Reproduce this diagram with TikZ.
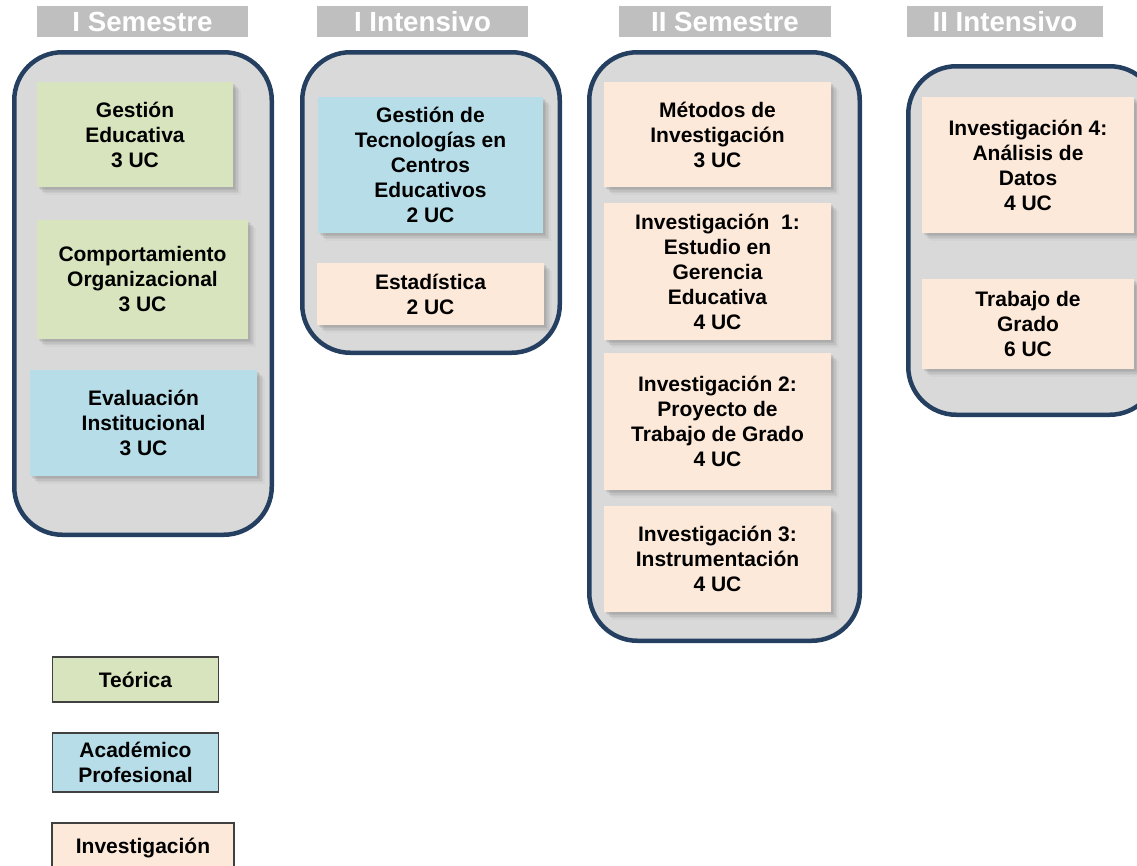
\documentclass[tikz,border=0pt]{standalone}
\usepackage{fontspec}
\setmainfont{Liberation Sans}
\usetikzlibrary{shadows}
\definecolor{teo}{HTML}{D7E4BD}
\definecolor{aca}{HTML}{B7DDE8}
\definecolor{inv}{HTML}{FDE9D9}
\definecolor{panel}{HTML}{D9D9D9}
\definecolor{navy}{HTML}{243F60}
\definecolor{hdr}{HTML}{BFBFBF}
\definecolor{legline}{HTML}{404040}
\tikzset{
  cardtext/.style={align=center, inner sep=0pt, font=\fontsize{21}{25}\selectfont\bfseries},
  card/.style={cardtext,
    drop shadow={shadow xshift=1.5pt,shadow yshift=-1.5pt,opacity=0.16},
    drop shadow={shadow xshift=3pt,shadow yshift=-3pt,opacity=0.16},
    drop shadow={shadow xshift=4.5pt,shadow yshift=-4.5pt,opacity=0.14},
    drop shadow={shadow xshift=6pt,shadow yshift=-6pt,opacity=0.10},
    drop shadow={shadow xshift=7.5pt,shadow yshift=-7.5pt,opacity=0.06}},
  panelbox/.style={draw=navy, line width=4.5pt, fill=panel, rounded corners=48pt, inner sep=0pt},
  header/.style={fill=hdr, text=white, inner sep=0pt, minimum height=31pt, font=\fontsize{27.7}{30}\selectfont\bfseries},
  legend/.style={cardtext, draw=legline, line width=1.2pt, minimum width=166pt},
}
\begin{document}
\begin{tikzpicture}[x=1pt,y=-1pt]
\useasboundingbox (0,0) rectangle (1137,865);
\clip (0,0) rectangle (1137,865);
% headers
\node[header, minimum width=211pt] (h1) at (142.5,21.5) {I Semestre};
\node[header, minimum width=211pt] (h2) at (422.5,21.5) {I Intensivo};
\node[header, minimum width=212pt] (h3) at (725,21.5) {II Semestre};
\node[header, minimum width=196pt] (h4) at (1005,21.5) {II Intensivo};
% panels
\node[panelbox, minimum width=257.5pt, minimum height=482.5pt] (s1) at (143,293.5) {};
\node[panelbox, minimum width=257.5pt, minimum height=300.5pt] (s2) at (431,202.5) {};
\node[panelbox, minimum width=270.5pt, minimum height=588.5pt] (s3) at (724.5,346.5) {};
\node[panelbox, minimum width=249.5pt, minimum height=348.5pt] (s4) at (1033,240.5) {};
% I Semestre
\node[card, fill=teo, minimum width=196pt, minimum height=105pt] (g1) at (135,134.5) {Gestión\\Educativa\\3 UC};
\node[card, fill=teo, minimum width=211pt, minimum height=119pt] (g2) at (142.5,279.5) {Comportamiento\\Organizacional\\3 UC};
\node[card, fill=aca, minimum width=227pt, minimum height=106pt] (b1) at (143.5,423) {Evaluación\\Institucional\\3 UC};
% I Intensivo
\node[card, fill=aca, minimum width=225pt, minimum height=136pt] (b2) at (430.5,165) {Gestión de\\Tecnologías en\\Centros\\Educativos\\2 UC};
\node[card, fill=inv, minimum width=227pt, minimum height=62pt] (p1) at (430.5,294) {Estadística\\2 UC};
% II Semestre
\node[card, fill=inv, minimum width=227pt, minimum height=105pt] (p2) at (717.5,134.5) {Métodos de\\Investigación\\3 UC};
\node[card, fill=inv, minimum width=227pt, minimum height=137pt] (p3) at (717.5,271.5) {Investigación\ \ 1:\\Estudio en\\Gerencia\\Educativa\\4 UC};
\node[card, fill=inv, minimum width=227pt, minimum height=137pt] (p4) at (717.5,421.5) {Investigación 2:\\Proyecto de\\Trabajo de Grado\\4 UC};
\node[card, fill=inv, minimum width=227pt, minimum height=106pt] (p5) at (717.5,559) {Investigación 3:\\Instrumentación\\4 UC};
% II Intensivo
\node[card, fill=inv, minimum width=212pt, minimum height=136pt] (p6) at (1028,165) {Investigación 4:\\Análisis de\\Datos\\4 UC};
\node[card, fill=inv, minimum width=212pt, minimum height=90pt] (p7) at (1028,324) {Trabajo de\\Grado\\6 UC};
% legend
\node[legend, fill=teo, minimum height=45pt] (l1) at (135.5,679.5) {Teórica};
\node[legend, fill=aca, minimum height=59pt] (l2) at (135.5,762.5) {Académico\\Profesional};
\node[legend, fill=inv, minimum width=182pt, minimum height=50pt] (l3) at (143,848) {Investigación};
\end{tikzpicture}
\end{document}
